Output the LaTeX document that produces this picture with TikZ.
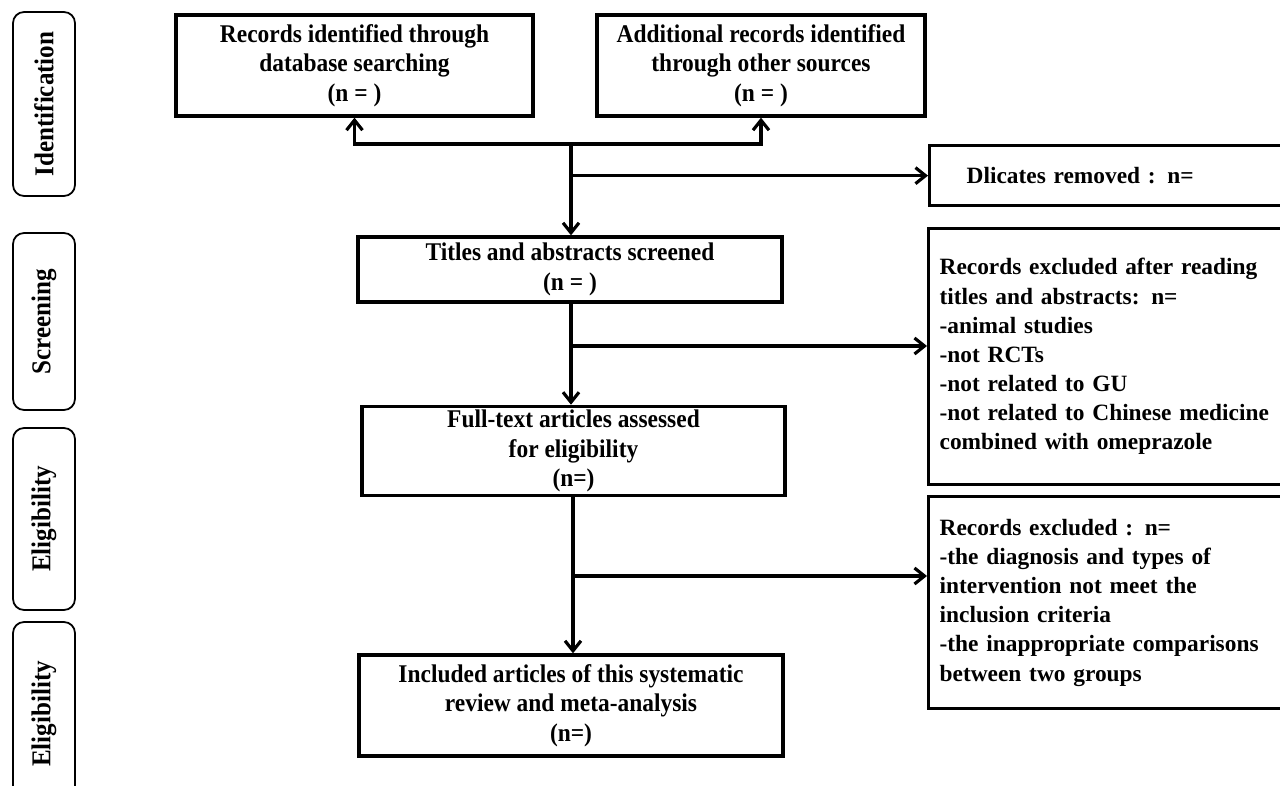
\documentclass[tikz,border=0pt]{standalone}
\usepackage{fontspec}
\setmainfont{Liberation Serif}
\newfontfamily\narrowfont[FakeStretch=0.92]{Liberation Serif}
\usetikzlibrary{arrows.meta}

\begin{document}
\begin{tikzpicture}[x=0.02cm, y=-0.02cm, font=\bfseries\fontsize{13.3}{16.6}\selectfont,
  box/.style={draw, line width=1.9pt, align=center, inner sep=2pt, font=\narrowfont\bfseries\fontsize{14.5}{16.8}\selectfont},
  sidebox/.style={draw, line width=1.9pt, align=left, anchor=north west, inner xsep=0.22cm, text width=7cm},
  stage/.style={draw, line width=1pt, rounded corners=0.22cm, rotate=90, minimum height=1.24cm, font=\narrowfont\bfseries\fontsize{15.5}{17}\selectfont},
  arr/.style={line width=1.8pt, -{Straight Barb[length=2mm,width=3.2mm]}}]
	\useasboundingbox (0,0) rectangle (1280,786);
	\clip (0,0) rectangle (1280,786);
	% stages on the left
	\node[stage, minimum width=3.68cm] (ident) at (44,104) {Identification};
	\node[stage, minimum width=3.54cm] (screen) at (44,321.5) {Screening};
	\node[stage, minimum width=3.64cm] (elig) at (44,519) {Eligibility};
	\node[stage, minimum width=3.68cm] (incl) at (44,714) {Eligibility};
	% main column
	\node[box, minimum width=7.14cm, minimum height=2.02cm] (dbrec) at (354.5,65.5) {Records identified through\\database searching\\(n = )};
	\node[box, minimum width=6.56cm, minimum height=2.02cm] (otherrec) at (761,65.5) {Additional records identified\\through other sources\\(n = )};
	\node[box, minimum width=8.48cm, minimum height=1.3cm] (titles) at (570,269.5) {Titles and abstracts screened\\(n = )};
	\node[box, minimum width=8.46cm, minimum height=1.76cm] (fulltext) at (573.5,451) {Full-text articles assessed\\for eligibility\\(n=)};
	\node[box, minimum width=8.48cm, minimum height=2.02cm] (included) at (571,705.5) {Included articles of this systematic\\review and meta-analysis\\(n=)};
	% exclusions
	\node[sidebox, inner xsep=0.74cm, text width=6cm, minimum height=1.2cm] (dupl) at (928,144) {Dlicates removed : n=};
	\node[sidebox, minimum height=5.12cm] (excta) at (927,227) {Records excluded after reading\\titles and abstracts: n=\\-animal studies\\-not RCTs\\-not related to GU\\-not related to Chinese medicine\\combined with omeprazole};
	\node[sidebox, minimum height=4.24cm] (exctb) at (927,495) {Records excluded : n=\\-the diagnosis and types of\\intervention not meet the\\inclusion criteria\\-the inappropriate comparisons\\between two groups};
	\coordinate (split) at (571,144);
	\coordinate (cutA) at (571,346);
	\coordinate (cutB) at (573,576);
	% connectors
	\draw[arr] (split) -| (dbrec.south);
	\draw[arr] (split) -| (otherrec.south);
	\draw[arr] (split) -- (split |- titles.north);
	\draw[arr] (split |- dupl.west) -- (dupl.west);
	\draw[arr] (titles.south -| split) -- (split |- fulltext.north);
	\draw[arr] (cutA) -- (cutA -| excta.west);
	\draw[arr] (fulltext.south -| cutB) -- (cutB |- included.north);
	\draw[arr] (cutB) -- (cutB -| exctb.west);
\end{tikzpicture}
\end{document}
